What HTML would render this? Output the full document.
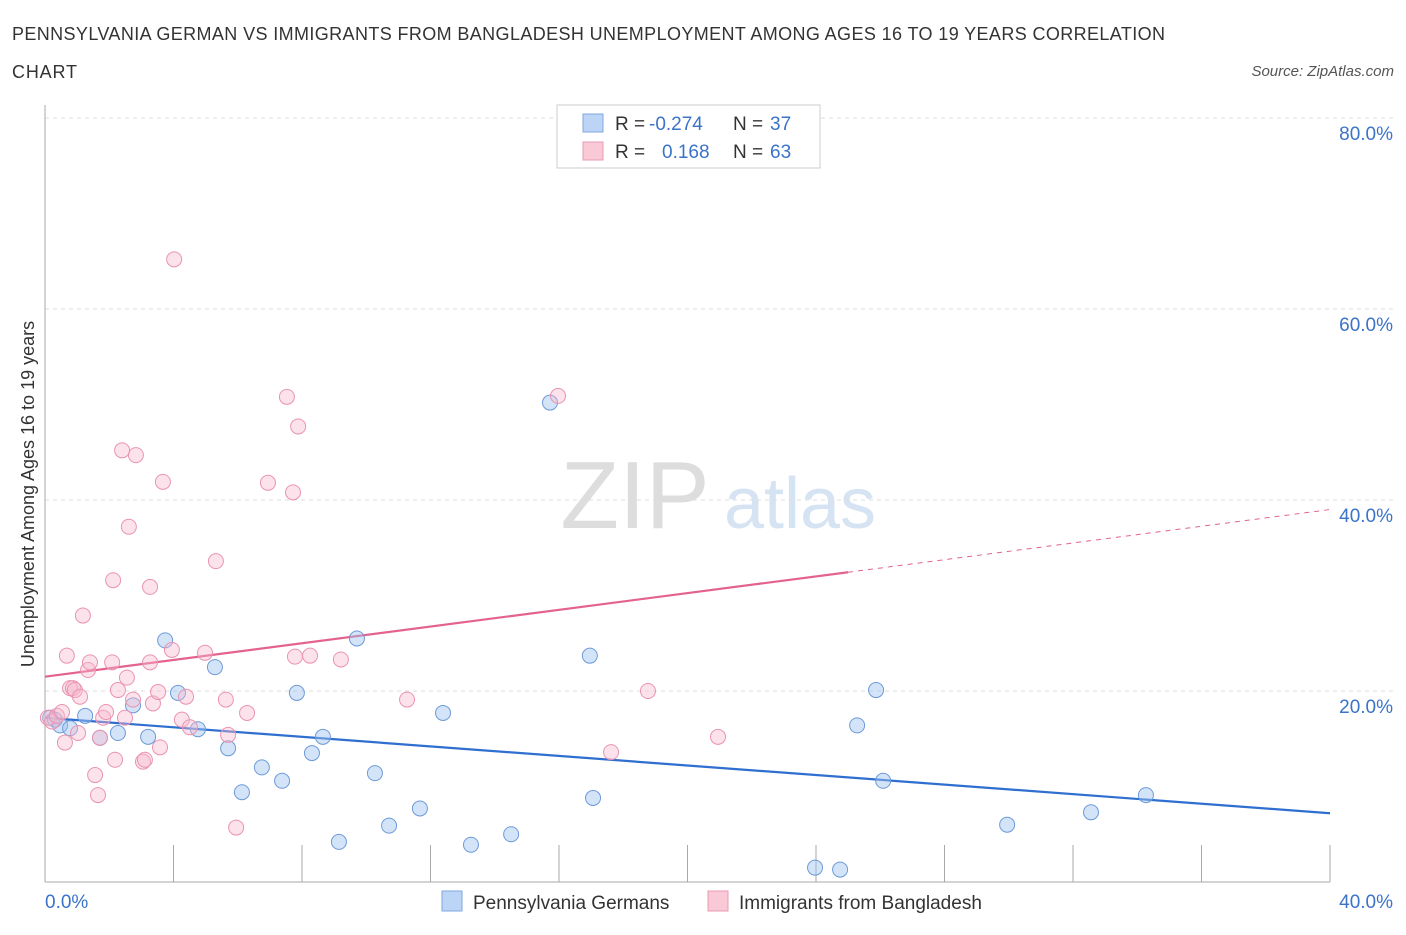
<!DOCTYPE html>
<html><head><meta charset="utf-8">
<style>
body{margin:0;background:#fff;font-family:"Liberation Sans",sans-serif;}
svg text{font-family:"Liberation Sans",sans-serif;}
</style></head>
<body>
<svg id="chart" width="1406" height="930" xmlns="http://www.w3.org/2000/svg">
<text x="12" y="40" font-size="18" fill="#333" textLength="1153" lengthAdjust="spacing">PENNSYLVANIA GERMAN VS IMMIGRANTS FROM BANGLADESH UNEMPLOYMENT AMONG AGES 16 TO 19 YEARS CORRELATION</text>
<text x="12" y="78" font-size="18" fill="#333" textLength="65" lengthAdjust="spacing">CHART</text>
<text x="1394" y="76" font-size="15" fill="#555" font-style="italic" text-anchor="end">Source: ZipAtlas.com</text>
<text x="635" y="528" font-size="96" fill="#ddd" font-family="Liberation Serif" text-anchor="middle">ZIP</text>
<text x="800" y="528" font-size="72" fill="#d6e3f3" text-anchor="middle">atlas</text>
<g id="grid"></g>
<g id="axes"></g>
<g id="lines"></g>
<g id="points"></g>
<text x="34" y="494" font-size="18" fill="#333" text-anchor="middle" transform="rotate(-90 34 494)">Unemployment Among Ages 16 to 19 years</text>
<text x="45" y="908" font-size="19" fill="#3b73c8">0.0%</text>
<text x="1393" y="908" font-size="19" fill="#3b73c8" text-anchor="end">40.0%</text>
<g>
<rect x="557" y="105" width="263" height="63" fill="#fff" stroke="#ccc"/>
<rect x="583" y="114" width="20" height="18" fill="#bcd4f5" stroke="#7fa6de"/>
<text x="615" y="130" font-size="19" fill="#333">R =</text>
<text x="649" y="130" font-size="19" fill="#3b73c8">-0.274</text>
<text x="733" y="130" font-size="19" fill="#333">N =</text>
<text x="770" y="130" font-size="19" fill="#3b73c8">37</text>
<rect x="583" y="142" width="20" height="18" fill="#f9c9d8" stroke="#eb9ab4"/>
<text x="615" y="158" font-size="19" fill="#333">R =</text>
<text x="662" y="158" font-size="19" fill="#3b73c8">0.168</text>
<text x="733" y="158" font-size="19" fill="#333">N =</text>
<text x="770" y="158" font-size="19" fill="#3b73c8">63</text>
</g>
<g>
<rect x="442" y="891" width="20" height="20" fill="#bcd4f5" stroke="#7fa6de"/>
<text x="473" y="909" font-size="19" fill="#333">Pennsylvania Germans</text>
<rect x="708" y="891" width="20" height="20" fill="#f9c9d8" stroke="#eb9ab4"/>
<text x="739" y="909" font-size="19" fill="#333">Immigrants from Bangladesh</text>
</g>
</svg>
<script>
const yTicks=[20,40,60,80];
const yTickLabels=["20.0%","40.0%","60.0%","80.0%"];
const xTicks=[4,8,12,16,20,24,28,32,36,40];
const blueX=[0.16,0.31,0.47,0.78,1.25,1.71,2.27,2.74,3.21,3.74,4.14,4.76,5.29,5.70,6.13,6.75,7.38,7.84,8.31,8.65,9.15,9.71,10.27,10.71,11.67,12.39,13.26,14.51,15.72,16.96,17.06,23.97,24.75,25.28,25.87,26.09,29.95,32.56,34.27];
const blueY=[17.2,17.0,16.4,16.1,17.4,15.1,15.6,18.5,15.2,25.3,19.8,16.0,22.5,14.0,9.4,12.0,10.6,19.8,13.5,15.2,4.2,25.5,11.4,5.9,7.7,17.7,3.9,5.0,50.2,23.7,8.8,1.5,1.3,16.4,20.1,10.6,6.0,7.3,9.1];
const pinkX=[0.09,0.22,0.37,0.53,0.62,0.68,0.78,0.87,0.93,1.03,1.09,1.18,1.34,1.40,1.56,1.65,1.71,1.81,1.90,2.09,2.12,2.18,2.27,2.40,2.49,2.55,2.61,2.74,2.83,3.05,3.11,3.27,3.27,3.36,3.52,3.58,3.67,3.95,4.02,4.26,4.39,4.51,4.98,5.32,5.63,5.70,5.95,6.29,6.94,7.53,7.72,7.78,7.88,8.25,9.21,11.27,15.97,17.62,18.77,20.95];
const pinkY=[17.2,16.8,17.4,17.8,14.6,23.7,20.3,20.3,20.1,15.6,19.4,27.9,22.2,23.0,11.2,9.1,15.1,17.2,17.8,23.0,31.6,12.8,20.1,45.2,17.2,21.4,37.2,19.1,44.7,12.6,12.8,23.0,30.9,18.7,19.9,14.1,41.9,24.3,65.2,17.0,19.4,16.2,24.0,33.6,19.1,15.4,5.7,17.7,41.8,50.8,40.8,23.6,47.7,23.7,23.3,19.1,50.9,13.6,20.0,15.2];
const blueFit=[17.2,7.2];
const pinkFit=[21.5,39.0];
const pinkSolidEnd=25;

const NS="http://www.w3.org/2000/svg";
const X0=45,X1=1330,Y0=882,Y80=118;
function sx(v){return X0+v/40*(X1-X0);}
function sy(v){return Y0-v/80*(Y0-Y80);}
function mk(tag,attrs,parent){const e=document.createElementNS(NS,tag);for(const k in attrs)e.setAttribute(k,attrs[k]);parent.appendChild(e);return e;}
const grid=document.getElementById('grid'),axes=document.getElementById('axes'),lines=document.getElementById('lines'),pts=document.getElementById('points');
yTicks.forEach((t,i)=>{
  const l=mk('line',{x1:X0,x2:1394,y1:sy(t),y2:sy(t),stroke:'#ddd','stroke-dasharray':'4,4'},grid);
  
  
  const tx=mk('text',{x:1393,y:sy(t)+22,'font-size':19,fill:'#3b73c8','text-anchor':'end'},grid);
  tx.textContent=yTickLabels[i];
  
  
});
const yl=mk('line',{x1:X0,x2:X0,y1:105,y2:Y0,stroke:'#aaa'},axes);


const xl=mk('line',{x1:X0,x2:X1,y1:Y0,y2:Y0,stroke:'#aaa'},axes);


xTicks.forEach(t=>{
  const l=mk('line',{x1:sx(t),x2:sx(t),y1:845,y2:Y0,stroke:'#aaa'},axes);
  
  
});
function fitY(f,x){return f[0]+(f[1]-f[0])*x/40;}
const bl=mk('line',{x1:sx(0),y1:sy(fitY(blueFit,0)),x2:sx(40),y2:sy(fitY(blueFit,40)),stroke:'#2f6fd0','stroke-width':2.2},lines);


const pl=mk('line',{x1:sx(0),y1:sy(fitY(pinkFit,0)),x2:sx(pinkSolidEnd),y2:sy(fitY(pinkFit,pinkSolidEnd)),stroke:'#e4628e','stroke-width':2.2},lines);


const pd=mk('line',{x1:sx(pinkSolidEnd),y1:sy(fitY(pinkFit,pinkSolidEnd)),x2:sx(40),y2:sy(fitY(pinkFit,40)),stroke:'#e4628e','stroke-width':1,'stroke-dasharray':'5,5'},lines);


blueX.forEach((x,i)=>{
  const c=mk('circle',{cx:sx(x),cy:sy(blueY[i]),r:7.5,fill:'rgba(160,195,240,0.45)',stroke:'#6d9ad8','stroke-width':1},pts);
  
  
});
pinkX.forEach((x,i)=>{
  const c=mk('circle',{cx:sx(x),cy:sy(pinkY[i]),r:7.5,fill:'rgba(248,185,205,0.4)',stroke:'#ea93b0','stroke-width':1},pts);
  
  
});
</script>
</body></html>
